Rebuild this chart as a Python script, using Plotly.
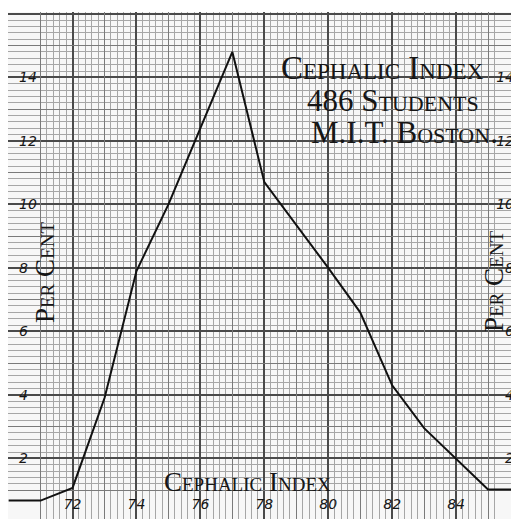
import plotly.graph_objects as go

# ---- data ----
cephalic_index = [70, 71, 72, 73, 74, 75, 76, 77, 78, 79, 80, 81, 82, 83, 84, 85, 86]
per_cent = [0.67, 0.67, 1.07, 3.9, 7.9, 10.0, 12.4, 14.8, 10.7, 9.35, 8.0, 6.6, 4.3, 2.95, 2.0, 1.02, 1.02]

x_major = [70, 72, 74, 76, 78, 80, 82, 84, 86]
x_major_text = ["", "72", "74", "76", "78", "80", "82", "84", ""]
x_mid = [71, 73, 75, 77, 79, 81, 83, 85]
y_major = [0, 2, 4, 6, 8, 10, 12, 14, 16]
y_major_text = ["", "2", "4", "6", "8", "10", "12", "14", ""]
y_mid = [1, 3, 5, 7, 9, 11, 13, 15]

title_lines = ["Cephalic Index", "486 Students", "M.I.T. Boston."]
x_title = "Cephalic Index"
y_title = "Per Cent"

# ---- layout geometry (page body has an 8px margin) ----
OFF = 8
W, H = 511, 511
ML, MR, MT, MB = 0, 0, 4, 0
XR = [69.98, 69.98 + (W - ML - MR) / 31.96]
YR = [0.09, 0.09 + (H - MT - MB) / 31.75]

def px(xp):
    return (xp - OFF - ML) / (W - ML - MR)

def py(yp):
    return (H - MB - (yp - OFF)) / (H - MT - MB)

INK = "#161616"
MAJOR = "#4a4a4a"
MID = "#7a7a7a"
MINOR = "#a6a6a6"

tick_font = dict(family="DejaVu Sans", size=14, color=INK, style="italic")

fig = go.Figure()
fig.add_trace(go.Scatter(x=[None], y=[None], xaxis="x", yaxis="y",
                         showlegend=False, hoverinfo="skip"))
fig.add_trace(go.Scatter(x=[None], y=[None], xaxis="x", yaxis="y3",
                         showlegend=False, hoverinfo="skip"))
fig.add_trace(go.Scatter(x=cephalic_index, y=per_cent, mode="lines",
                         line=dict(color="#111111", width=2),
                         xaxis="x2", yaxis="y2", showlegend=False))

common_minor = dict(dtick=0.2, showgrid=True, gridcolor=MINOR, gridwidth=1, ticks="")

fig.update_layout(
    width=W, height=H,
    margin=dict(l=ML, r=MR, t=MT, b=MB, pad=0, autoexpand=False),
    paper_bgcolor="white", plot_bgcolor="#f7f7f7",
    showlegend=False,
    xaxis=dict(range=XR, tickmode="array", tickvals=x_major, ticktext=x_major_text,
               showgrid=True, gridcolor=MAJOR, gridwidth=1.8, zeroline=False,
               showline=False, ticks="", ticklabelposition="inside",
               ticklabelstandoff=4, tickfont=tick_font, automargin=False,
               minor=dict(tick0=70, **common_minor)),
    yaxis=dict(range=YR, tickmode="array", tickvals=y_major, ticktext=y_major_text,
               showgrid=True, gridcolor=MAJOR, gridwidth=1.8, zeroline=False,
               showline=False, ticks="", ticklabelposition="inside",
               ticklabelstandoff=8, tickfont=tick_font, automargin=False,
               minor=dict(tick0=0, **common_minor)),
    xaxis2=dict(range=XR, overlaying="x", anchor="y2", tickmode="array",
                tickvals=x_mid, showticklabels=False, showgrid=True,
                gridcolor=MID, gridwidth=1.2, zeroline=False, ticks="",
                automargin=False),
    yaxis2=dict(range=YR, overlaying="y", anchor="x2", tickmode="array",
                tickvals=y_mid, showticklabels=False, showgrid=True,
                gridcolor=MID, gridwidth=1.2, zeroline=False, ticks="",
                automargin=False),
    yaxis3=dict(range=YR, overlaying="y", anchor="x", side="right",
                tickmode="array", tickvals=y_major, ticktext=y_major_text,
                showgrid=False, zeroline=False, ticks="", automargin=False,
                ticklabelposition="inside", ticklabelstandoff=2, tickfont=tick_font),
)

t1_font = dict(family="Liberation Serif", size=33, color=INK, variant="small-caps")
t2_font = dict(family="Liberation Serif", size=31, color=INK, variant="small-caps")
t3_font = dict(family="Liberation Serif", size=31, color=INK, variant="small-caps")
xlabel_font = dict(family="Liberation Serif", size=27, color=INK, variant="small-caps")
ylabel_font = dict(family="Liberation Serif", size=27, color=INK, variant="small-caps")

annos = [
    dict(text=title_lines[0], x=px(382), y=py(68), font=t1_font),
    dict(text=title_lines[1], x=px(393), y=py(100), font=t2_font),
    dict(text=title_lines[2], x=px(404), y=py(132), font=t3_font),
    dict(text=x_title, x=px(247), y=py(482), font=xlabel_font),
    dict(text=y_title, x=px(45), y=py(273), font=ylabel_font, textangle=-90),
    dict(text=y_title, x=px(494), y=py(282), font=ylabel_font, textangle=-90),
]
for a in annos:
    fig.add_annotation(xref="paper", yref="paper", showarrow=False,
                       xanchor="center", yanchor="middle", **a)

fig.write_html("out.html")
